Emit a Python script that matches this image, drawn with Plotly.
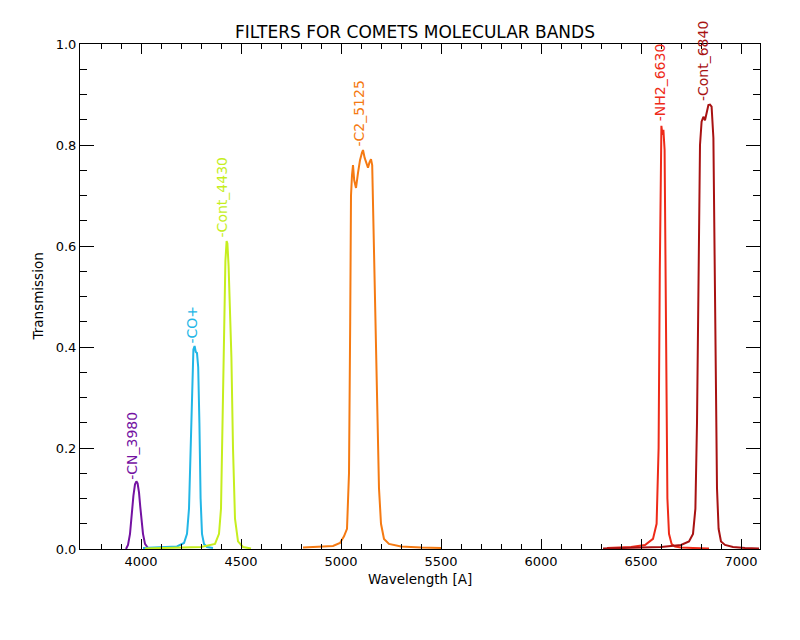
import plotly.graph_objects as go

# ---- data ----
cn_wl = [3925, 3935, 3945, 3953, 3962, 3970, 3977, 3983, 3990, 3996, 4002, 4010, 4020, 4035]
cn_t = [0.0, 0.008, 0.03, 0.067, 0.105, 0.128, 0.134, 0.13, 0.112, 0.085, 0.06, 0.03, 0.01, 0.002]

cop_wl = [4010, 4100, 4180, 4215, 4230, 4240, 4248, 4255, 4262, 4268, 4274, 4280, 4286, 4292, 4298, 4305, 4315, 4330, 4360]
cop_t = [0.002, 0.003, 0.005, 0.012, 0.03, 0.08, 0.2, 0.33, 0.395, 0.402, 0.39, 0.388, 0.36, 0.25, 0.1, 0.03, 0.01, 0.004, 0.002]

c4430_wl = [4020, 4150, 4300, 4370, 4390, 4400, 4408, 4415, 4422, 4428, 4432, 4438, 4445, 4452, 4460, 4470, 4485, 4510, 4550]
c4430_t = [0.001, 0.002, 0.004, 0.01, 0.03, 0.08, 0.25, 0.45, 0.57, 0.61, 0.605, 0.56, 0.48, 0.38, 0.2, 0.06, 0.015, 0.004, 0.001]

c2_wl = [4810, 4900, 4960, 4995, 5015, 5030, 5040, 5046, 5050, 5055, 5060, 5066, 5075, 5085, 5095, 5105, 5110, 5118,
         5126, 5135, 5142, 5150, 5156, 5160, 5166, 5172, 5180, 5190, 5200, 5215, 5240, 5300, 5400, 5500]
c2_t = [0.003, 0.004, 0.006, 0.012, 0.025, 0.04, 0.15, 0.45, 0.70, 0.74, 0.76, 0.73, 0.715, 0.745, 0.77, 0.785, 0.79, 0.775,
        0.765, 0.755, 0.765, 0.772, 0.76, 0.69, 0.6, 0.5, 0.3, 0.12, 0.05, 0.02, 0.01, 0.005, 0.003, 0.002]

nh2_wl = [6330, 6450, 6520, 6560, 6578, 6588, 6594, 6598, 6602, 6607, 6612, 6618, 6622, 6626, 6632, 6640, 6653, 6670, 6700, 6760, 6840]
nh2_t = [0.002, 0.004, 0.008, 0.02, 0.05, 0.2, 0.55, 0.75, 0.838, 0.82, 0.83, 0.79, 0.6, 0.3, 0.1, 0.03, 0.01, 0.005, 0.003, 0.002, 0.001]

c6840_wl = [6310, 6450, 6600, 6700, 6740, 6760, 6772, 6780, 6788, 6795, 6803, 6812, 6820, 6828, 6837, 6845, 6853,
            6862, 6868, 6874, 6880, 6888, 6900, 6920, 6960, 7020, 7090]
c6840_t = [0.001, 0.002, 0.004, 0.008, 0.015, 0.03, 0.08, 0.25, 0.6, 0.8, 0.846, 0.856, 0.849, 0.865, 0.879, 0.88, 0.876,
           0.814, 0.6, 0.3, 0.12, 0.04, 0.015, 0.008, 0.004, 0.002, 0.001]

filter_names = ["CN_3980", "CO+", "Cont_4430", "C2_5125", "NH2_6630", "Cont_6840"]
label_x = [3955, 4255, 4405, 5090, 6595, 6810]
label_y = [0.135, 0.405, 0.615, 0.795, 0.845, 0.885]

x_tick_vals = [4000, 4500, 5000, 5500, 6000, 6500, 7000]
y_tick_vals = [0.0, 0.2, 0.4, 0.6, 0.8, 1.0]

colors = ["#7412A2", "#22B6E6", "#C6EE1E", "#F57A12", "#EE2A18", "#A81212"]
series = [(cn_wl, cn_t), (cop_wl, cop_t), (c4430_wl, c4430_t), (c2_wl, c2_t), (nh2_wl, nh2_t), (c6840_wl, c6840_t)]

FONT = "DejaVu Sans"
# the page places the figure 8px from the top-left corner; size the figure to fill the window
W, H = 792, 632

fig = go.Figure()
for (wl, t), name, col in zip(series, filter_names, colors):
    fig.add_trace(go.Scatter(x=wl, y=t, mode="lines", name=name,
                             line=dict(color=col, width=2), showlegend=False))

for name, lx, ly, col in zip(filter_names, label_x, label_y, colors):
    fig.add_annotation(x=lx, y=ly, xref="x", yref="y", text="-" + name, showarrow=False,
                       textangle=-90, xanchor="center", yanchor="bottom",
                       font=dict(family=FONT, size=14, color=col), borderpad=0)

fig.add_annotation(x=0.5, y=0, xref="paper", yref="paper", text="Wavelength [A]", showarrow=False,
                   xanchor="center", yanchor="middle", yshift=-30,
                   font=dict(family=FONT, size=13.5, color="black"))
fig.add_annotation(x=0, y=0.5, xref="paper", yref="paper", text="Transmission", showarrow=False,
                   textangle=-90, xanchor="center", yanchor="middle", xshift=-43,
                   font=dict(family=FONT, size=13.5, color="black"))

fig.update_layout(
    width=W, height=H,
    margin=dict(l=72, r=40, t=36, b=91),
    paper_bgcolor="white", plot_bgcolor="white",
    title=dict(text="FILTERS FOR COMETS MOLECULAR BANDS", x=407 / W, xref="container", xanchor="center",
               y=1 - 24 / H, yref="container", yanchor="middle",
               font=dict(family=FONT, size=17, color="black")),
    font=dict(family=FONT, size=13, color="black"),
)
fig.update_xaxes(range=[3695, 7095], showgrid=False, zeroline=False,
                 showline=True, linecolor="black", linewidth=1, mirror="ticks",
                 ticks="inside", ticklen=10, tickcolor="black", tickwidth=1,
                 tickvals=x_tick_vals, ticktext=[str(v) for v in x_tick_vals],
                 minor=dict(ticks="inside", ticklen=5, dtick=100, tick0=0, tickcolor="black", showgrid=False),
                 tickfont=dict(family=FONT, size=13, color="black"))
fig.update_yaxes(range=[0, 1.0], showgrid=False, zeroline=False,
                 showline=True, linecolor="black", linewidth=1, mirror="ticks",
                 ticks="inside", ticklen=14, tickcolor="black", tickwidth=1,
                 tickvals=y_tick_vals, ticktext=["%.1f" % v for v in y_tick_vals],
                 minor=dict(ticks="inside", ticklen=7, dtick=0.05, tick0=0, tickcolor="black", showgrid=False),
                 tickfont=dict(family=FONT, size=13, color="black"))

fig.write_html("out.html")
